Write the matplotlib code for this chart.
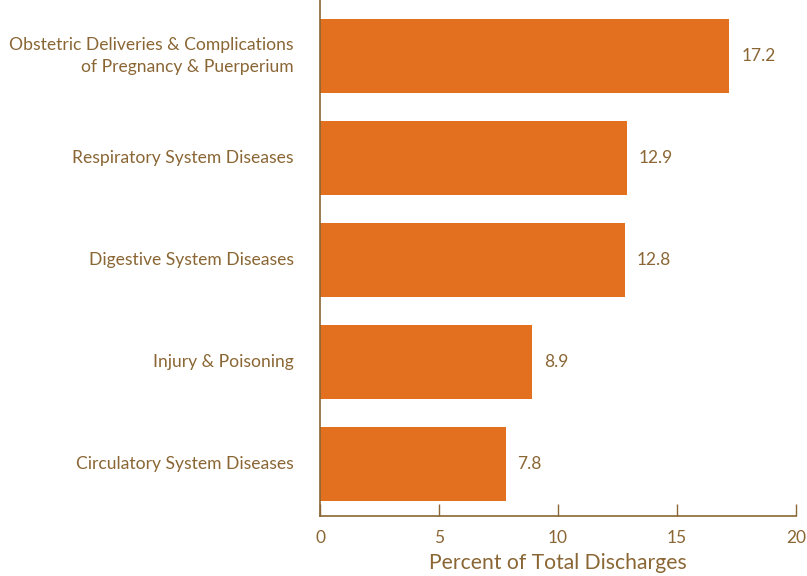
import matplotlib.pyplot as plt

categories = ["Obstetric Deliveries & Complications\nof Pregnancy & Puerperium",
              "Respiratory System Diseases",
              "Digestive System Diseases",
              "Injury & Poisoning",
              "Circulatory System Diseases"]
values = [17.2, 12.9, 12.8, 8.9, 7.8]
xticks = [0, 5, 10, 15, 20]

bar_color = "#E3701E"
text_color = "#8A6634"

plt.rcParams['font.family'] = ['Lato', 'DejaVu Sans']

fig = plt.figure(figsize=(8.07, 5.76), dpi=100)
ax = fig.add_axes([320 / 807, 1 - 516 / 576, 476 / 807, 516 / 576])

pos = list(range(len(values)))
ax.barh(pos, values, height=0.72, color=bar_color)
for p, v in zip(pos, values):
    ax.annotate(f"{v}", (v, p), xytext=(8.5, 0), textcoords="offset points",
                va="center", ha="left", fontsize=12.5, color=text_color)

ax.set_ylim(4.51, -0.55)
ax.set_xlim(0, 20)
ax.set_yticks(pos)
ax.set_yticklabels(categories, ha="right", va="center", multialignment="right",
                   linespacing=1.45)
ax.set_xticks(xticks)
ax.tick_params(axis="y", length=0, pad=19, labelsize=12.6, labelcolor=text_color)
ax.tick_params(axis="x", direction="in", length=9, width=1, color=text_color,
               pad=10, labelsize=12.5, labelcolor=text_color)
ax.set_xlabel("Percent of Total Discharges", fontsize=15.2, color=text_color, labelpad=5)

for s in ["top", "right"]:
    ax.spines[s].set_visible(False)
for s in ["left", "bottom"]:
    ax.spines[s].set_color(text_color)
    ax.spines[s].set_linewidth(1.2)

fig.savefig("out.png", dpi=100)
